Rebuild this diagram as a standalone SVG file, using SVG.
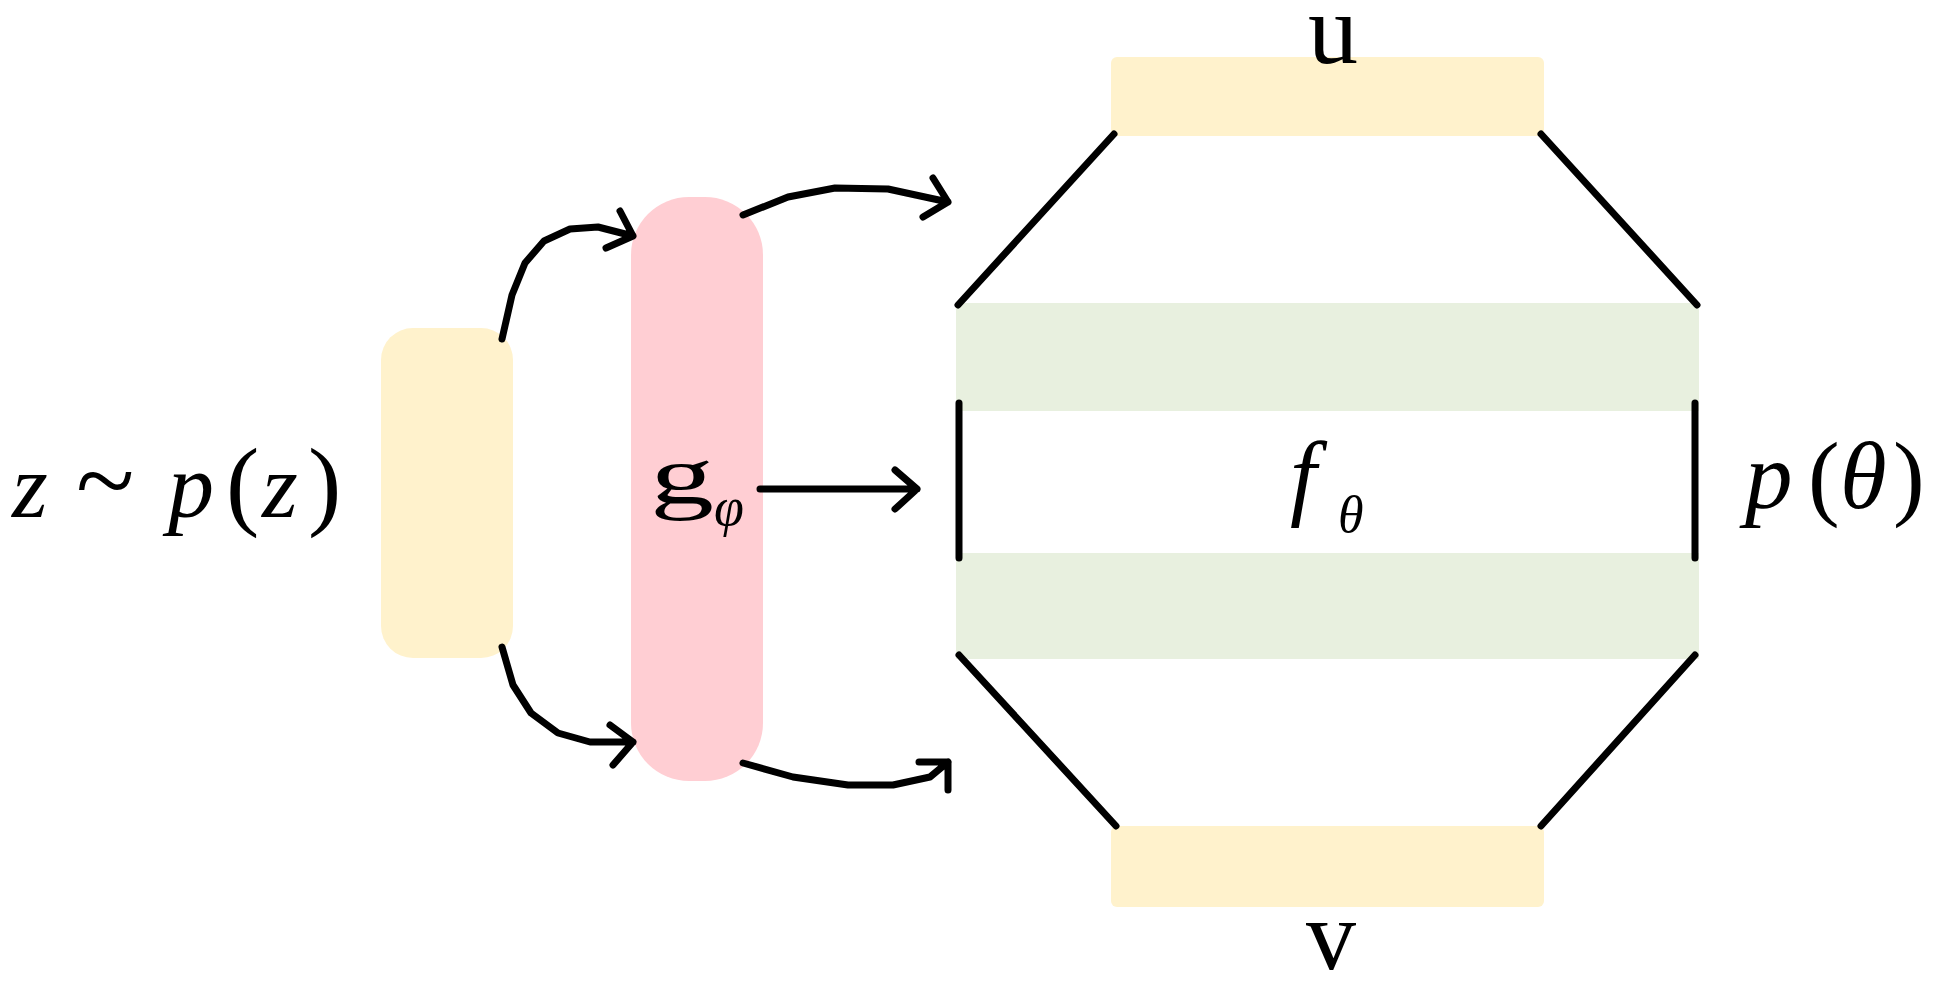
<svg xmlns="http://www.w3.org/2000/svg" width="1940" height="986" viewBox="0 0 1940 986">
<defs>
<style>
.yl{fill:#FFF2CC}
.pk{fill:#FFCED3}
.gr{fill:#E8F0DF}
</style>
</defs>
<rect width="1940" height="986" fill="#fff"/>
<g font-family="Liberation Serif, serif" fill="#000">
<g id="z-input">
<rect class="yl" x="381" y="328" width="132" height="330" rx="32"/>
<text y="517" font-size="92"><tspan font-style="italic" x="12">z</tspan><tspan x="76" font-size="108">~</tspan><tspan font-style="italic" x="168">p</tspan><tspan x="226" font-size="100">(</tspan><tspan font-style="italic" x="262">z</tspan><tspan x="308" font-size="100">)</tspan></text>
</g>
<g id="generator">
<rect class="pk" x="631" y="197" width="132" height="584" rx="58"/>
<text x="650" y="503" font-size="82" textLength="64" lengthAdjust="spacingAndGlyphs">g</text>
<text font-style="italic" x="714" y="525" font-size="54">φ</text>
</g>
<g id="network">
<rect class="yl" x="1111" y="57" width="433" height="79" rx="6"/>
<rect class="gr" x="956" y="303" width="743" height="108"/>
<rect class="gr" x="956" y="553" width="743" height="106"/>
<rect class="yl" x="1111" y="826" width="433" height="81" rx="6"/>
<path fill="none" stroke="#000" stroke-width="7" stroke-linecap="round" d="M1114 134 L958 305 M1541 134 L1697 305 M959 403 L959 558 M1695 403 L1695 558 M959 655 L1116 826 M1695 655 L1541 826"/>
<text x="1308" y="63" font-size="100">u</text>
<text x="1306" y="969" font-size="100">v</text>
<text font-style="italic" x="1290" y="508" font-size="95">f</text>
<text font-style="italic" x="1338" y="532" font-size="52">θ</text>
</g>
<g id="prior">
<text y="508" font-size="95"><tspan font-style="italic" x="1745">p</tspan><tspan x="1808">(</tspan><tspan font-style="italic" x="1840">θ</tspan><tspan x="1893">)</tspan></text>
</g>
</g>
<g id="connectors" fill="none" stroke="#000" stroke-width="7" stroke-linecap="round" stroke-linejoin="round">
<path d="M502 339 L512 295 L525 263 L544 241 L570 229 L598 227 L633 236 M620 211 L633 236 L606 248"/>
<path d="M502 647 L513 685 L531 713 L558 733 L590 742 L633 742 M610 725 L633 742 L613 765"/>
<path d="M743 215 L788 197 L835 188 L888 189 L948 202 M933 178 L948 202 L923 217"/>
<path d="M743 763 L793 777 L848 785 L893 785 L930 777 L948 762 M919 762 L948 762 L948 790"/>
<path d="M760 489 L917 489 M895 470 L917 489 L895 509"/>
</g>
</svg>
